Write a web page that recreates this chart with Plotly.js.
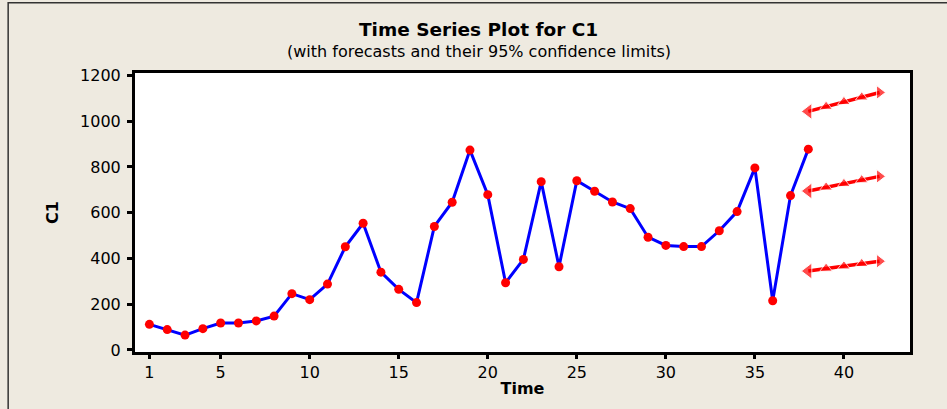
<!DOCTYPE html>
<html>
<head>
<meta charset="utf-8">
<script src="https://cdn.plot.ly/plotly-3.0.1.min.js"></script>
<style>
  html, body { margin: 0; padding: 0; background: #EEEAE0; }
  #chart { width: 947px; height: 409px; }
</style>
</head>
<body>
<div id="chart"></div>
<script>
// Observed series C1
const c1Values = [112, 89, 65, 93, 118, 118, 127, 148, 246, 220,
                  288, 451, 554, 340, 265, 207, 540, 646, 874, 679,
                  294, 396, 736, 364, 740, 694, 647, 618, 493, 457,
                  452, 452, 521, 605, 796, 215, 675, 878];
const c1Time = c1Values.map((_, i) => i + 1);

// Forecast periods with forecasts and 95% limits
const fcTime  = [38, 39, 40, 41, 42];
const fcUpper = [1043, 1064, 1085, 1105, 1126];
const fcPoint = [695, 711, 727, 743, 759];
const fcLower = [345, 356, 366, 377, 388];

const xTicks = [1, 5, 10, 15, 20, 25, 30, 35, 40];
const yTicks = [0, 200, 400, 600, 800, 1000, 1200];

const W = 947, H = 409;
const M = { l: 134.5, r: 36.5, t: 72.5, b: 57 };
const pw = W - M.l - M.r, ph = H - M.t - M.b;
// pixel -> paper helpers for text placement
const px = x => (x - M.l) / pw;
const py = y => (H - M.b - y) / ph;

const FONT = 'DejaVu Sans, Verdana, sans-serif';
const red = '#FF0000';

function fcTrace(y) {
  return {
    x: fcTime, y: y, type: 'scatter', mode: 'lines+markers',
    line: { color: red, width: 3.5 },
    marker: { color: red, size: [14, 11, 11, 11, 12],
              symbol: ['triangle-left', 'triangle-up', 'triangle-up', 'triangle-up', 'triangle-right'] },
    hoverinfo: 'skip', showlegend: false
  };
}

const data = [
  {
    x: c1Time, y: c1Values, type: 'scatter', mode: 'lines+markers',
    line: { color: '#0000FF', width: 3 },
    marker: { color: red, size: 9 },
    showlegend: false
  },
  fcTrace(fcUpper), fcTrace(fcPoint), fcTrace(fcLower)
];

const layout = {
  width: W, height: H,
  margin: M,
  paper_bgcolor: '#EEEAE0',
  plot_bgcolor: '#FFFFFF',
  font: { family: FONT, color: '#000000' },
  xaxis: {
    range: [0.19, 43.71],
    tickvals: xTicks, ticks: 'outside', ticklen: 4, tickwidth: 3, tickcolor: '#000',
    showline: true, mirror: true, linewidth: 3, linecolor: '#000',
    showgrid: false, zeroline: false,
    tickfont: { family: FONT, size: 16 },
    title: { text: 'Time', font: { family: FONT, size: 16, weight: 'bold' }, standoff: 2 }
  },
  yaxis: {
    range: [-9, 1211],
    tickvals: yTicks, ticks: 'outside', ticklen: 5, tickwidth: 3, tickcolor: '#000',
    showline: true, mirror: true, linewidth: 3, linecolor: '#000',
    showgrid: false, zeroline: false,
    tickfont: { family: FONT, size: 16 },
    ticklabelstandoff: 3,
    title: { text: 'C1', font: { family: FONT, size: 16, weight: 'bold' }, standoff: 18 }
  },
  annotations: [
    { text: '<b>Time Series Plot for C1</b>', xref: 'paper', yref: 'paper',
      x: px(478.5), y: py(28.5), xanchor: 'center', yanchor: 'middle', showarrow: false,
      font: { family: FONT, size: 18.5 } },
    { text: '(with forecasts and their 95% confidence limits)', xref: 'paper', yref: 'paper',
      x: px(478.5), y: py(51), xanchor: 'center', yanchor: 'middle', showarrow: false,
      font: { family: FONT, size: 16 } }
  ],
  shapes: [
    // thin outer frame of the graph window
    { type: 'rect', xref: 'paper', yref: 'paper', layer: 'below',
      x0: px(7.5), x1: px(960), y0: py(420), y1: py(2),
      line: { color: '#333333', width: 1.5 }, fillcolor: 'rgba(0,0,0,0)' }
  ]
};

Plotly.newPlot('chart', data, layout, { displayModeBar: false, staticPlot: true });
</script>
</body>
</html>
